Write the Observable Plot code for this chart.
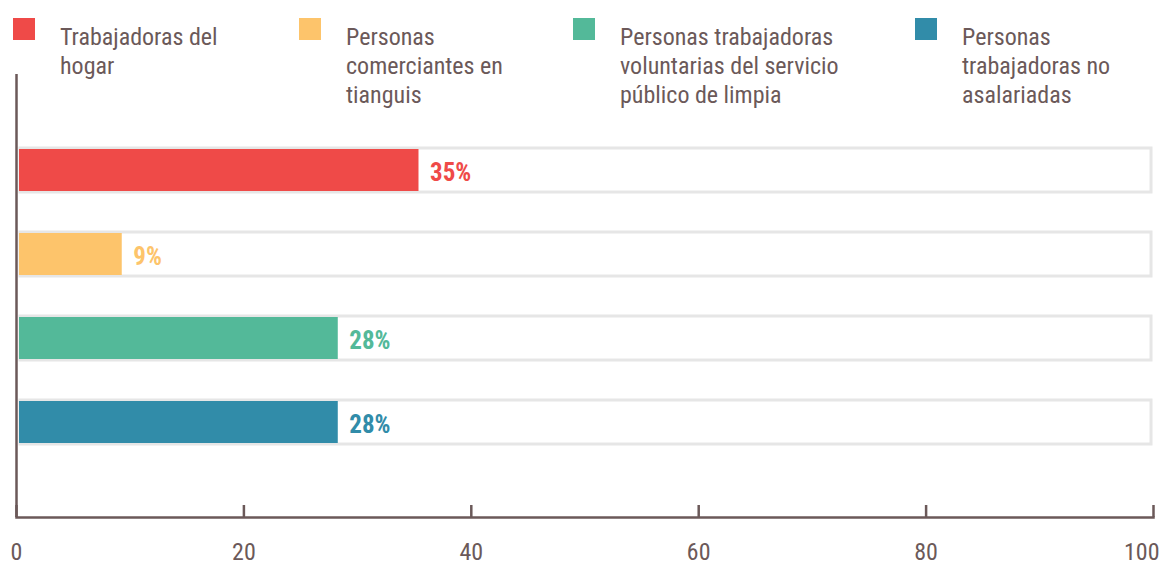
<!DOCTYPE html>
<html>
<head>
<meta charset="utf-8">
<script src="https://cdn.jsdelivr.net/npm/d3@7"></script>
<script src="https://cdn.jsdelivr.net/npm/@observablehq/plot@0.6"></script>
<style>
  html, body { margin: 0; padding: 0; background: #fff; }
  #wrap { position: relative; width: 1163px; height: 562px; font-family: "Roboto Condensed", Roboto, sans-serif; }
  #legend { position: absolute; left: 0; top: 0; width: 1163px; height: 110px; }
  .item { position: absolute; top: 18px; }
  .sw { position: absolute; left: 0; top: 0; width: 22px; height: 22px; }
  .lab { position: absolute; left: 47px; top: 5px; white-space: pre; font-size: 24px; line-height: 29px; color: #6b5959; }
  #chart { position: absolute; left: 0; top: 0; }
</style>
</head>
<body>
<div id="wrap">
  <div id="chart"></div>
  <div id="legend"></div>
</div>
<script>
const categories = [
  "Trabajadoras del hogar",
  "Personas comerciantes en tianguis",
  "Personas trabajadoras voluntarias del servicio público de limpia",
  "Personas trabajadoras no asalariadas"
];
const legendLabels = [
  "Trabajadoras del\nhogar",
  "Personas\ncomerciantes en\ntianguis",
  "Personas trabajadoras\nvoluntarias del servicio\npúblico de limpia",
  "Personas\ntrabajadoras no\nasalariadas"
];
const values = [35.4, 9.3, 28.3, 28.3];
const valueLabels = ["35%", "9%", "28%", "28%"];
const colors = ["#ef4a48", "#fdc46b", "#53b999", "#318ca9"];
const ticks = [0, 20, 40, 60, 80];
const lastTick = [100];

const data = categories.map((c, i) => ({cat: c, value: values[i], label: valueLabels[i], color: colors[i]}));

const axisColor = "#6b5959";
const chart = Plot.plot({
  width: 1163,
  height: 562,
  marginLeft: 16,
  marginRight: 10,
  marginTop: 74,
  marginBottom: 45,
  style: {fontFamily: "'Roboto Condensed', Roboto, sans-serif", fontSize: "24px", color: axisColor, background: "transparent", overflow: "visible"},
  x: {domain: [0, 100], axis: null},
  y: {domain: categories, axis: null, paddingInner: 0.5, paddingOuter: 0.87},
  marks: [
    Plot.barX(data, {y: "cat", x1: 0, x2: 100, fill: "#fff", stroke: "#e6e6e6", strokeWidth: 3, insetLeft: 4, insetRight: 2, insetTop: -1, insetBottom: -1}),
    Plot.barX(data, {y: "cat", x1: 0, x2: "value", fill: "color", insetLeft: 3}),
    Plot.text(data, {y: "cat", x: "value", text: "label", fill: "color", textAnchor: "start", dx: 11, dy: 2, fontWeight: "bold", fontSize: 25}),
    Plot.ruleX(ticks.concat(lastTick), {stroke: axisColor, strokeWidth: 2.5, insetTop: 431}),
    Plot.ruleX([0], {stroke: axisColor, strokeWidth: 2.5}),
    Plot.frame({anchor: "bottom", stroke: axisColor, strokeWidth: 2.5}),
    Plot.axisX(ticks, {anchor: "bottom", label: null, tickSize: 0, tickPadding: 25, fill: axisColor}),
    Plot.axisX(lastTick, {anchor: "bottom", label: null, tickSize: 0, tickPadding: 25, textAnchor: "end", dx: 6, fill: axisColor})
  ]
});
document.getElementById("chart").appendChild(chart);

const legend = document.getElementById("legend");
const itemLeft = [13, 299, 573, 915];
categories.forEach((c, i) => {
  const it = document.createElement("div");
  it.className = "item";
  it.style.left = itemLeft[i] + "px";
  const sw = document.createElement("div");
  sw.className = "sw";
  sw.style.background = colors[i];
  const lab = document.createElement("div");
  lab.className = "lab";
  lab.textContent = legendLabels[i];
  it.appendChild(sw);
  it.appendChild(lab);
  legend.appendChild(it);
});
</script>
</body>
</html>
